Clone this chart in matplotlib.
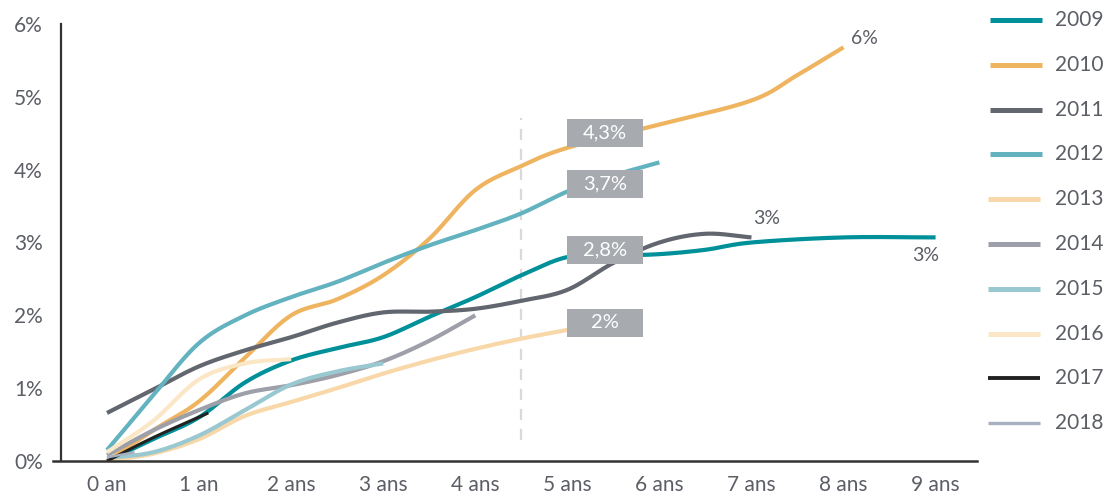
import numpy as np
import matplotlib
matplotlib.use("Agg")
import matplotlib.pyplot as plt
from matplotlib.lines import Line2D
from matplotlib.patches import Rectangle

plt.rcParams['font.family'] = ['Lato', 'DejaVu Sans']

# Years since launch (x) and cumulative rate in % (y) for each vintage
years = ["2009", "2010", "2011", "2012", "2013", "2014", "2015", "2016", "2017", "2018"]

x_2009 = [0, 0.5, 1, 1.5, 2, 2.5, 3, 3.5, 4, 4.5, 5, 5.5, 6, 6.5, 7, 8, 9]
y_2009 = [0, 0.3, 0.6, 1.08, 1.38, 1.55, 1.7, 1.98, 2.25, 2.55, 2.8, 2.82, 2.84, 2.9, 3.0, 3.07, 3.07]

x_2010 = [0, 0.5, 1, 1.5, 2, 2.5, 3, 3.5, 4, 4.5, 5, 6, 7, 7.5, 8]
y_2010 = [0, 0.42, 0.82, 1.42, 2.0, 2.22, 2.55, 3.05, 3.72, 4.05, 4.3, 4.62, 4.95, 5.3, 5.68]

x_2011 = [0, 0.5, 1, 1.5, 2, 2.5, 3, 3.5, 4, 4.5, 5, 5.5, 6, 6.5, 7]
y_2011 = [0.66, 0.98, 1.3, 1.52, 1.7, 1.9, 2.04, 2.05, 2.09, 2.2, 2.35, 2.72, 3.0, 3.12, 3.07]

x_2012 = [0, 0.5, 1, 1.5, 2, 2.5, 3, 3.5, 4, 4.5, 5, 5.5, 6]
y_2012 = [0.15, 0.9, 1.62, 2.0, 2.25, 2.46, 2.72, 2.96, 3.17, 3.4, 3.7, 3.92, 4.1]

x_2013 = [0, 0.5, 1, 1.5, 2, 2.5, 3, 3.5, 4, 4.5, 5]
y_2013 = [0, 0.1, 0.3, 0.62, 0.81, 1.0, 1.2, 1.38, 1.54, 1.68, 1.8]

x_2014 = [0, 0.5, 1, 1.5, 2, 2.5, 3, 3.5, 4]
y_2014 = [0.08, 0.42, 0.7, 0.93, 1.04, 1.18, 1.37, 1.65, 2.0]

x_2015 = [0, 0.5, 1, 1.5, 2, 2.5, 3]
y_2015 = [0.04, 0.12, 0.35, 0.7, 1.05, 1.23, 1.34]

x_2016 = [0, 0.5, 1, 1.5, 2]
y_2016 = [0.12, 0.55, 1.12, 1.34, 1.4]

x_2017 = [0, 0.5, 1.1]
y_2017 = [0, 0.32, 0.66]

x_2018 = [0, 0.3]
y_2018 = [0.05, 0.12]

xs_all = [x_2009, x_2010, x_2011, x_2012, x_2013, x_2014, x_2015, x_2016, x_2017, x_2018]
ys_all = [y_2009, y_2010, y_2011, y_2012, y_2013, y_2014, y_2015, y_2016, y_2017, y_2018]

x_labels = ["0 an", "1 an", "2 ans", "3 ans", "4 ans", "5 ans", "6 ans", "7 ans", "8 ans", "9 ans"]
y_ticks = [0, 1, 2, 3, 4, 5, 6]
y_labels = ["0%", "1%", "2%", "3%", "4%", "5%", "6%"]

# Boxed values at 5 years
box_series = ["2010", "2012", "2009", "2013"]
box_texts = ["4,3%", "3,7%", "2,8%", "2%"]

colors = ["#00909A", "#EFB45F", "#62666E", "#62B2BF", "#F8D8A8",
          "#9DA0A8", "#9AC8D0", "#FBE6C6", "#222222", "#A7AFC0"]
widths = [3, 3, 3, 3, 3, 3, 3, 3, 2.2, 1.8]

TEXT = "#5B5E65"


def smooth(x, y, n=24):
    """Catmull-Rom spline through the points, for a smoothed line."""
    x = np.asarray(x, float)
    y = np.asarray(y, float)
    if len(x) < 3:
        return x, y
    P = np.column_stack([x, y])
    P = np.vstack([2 * P[0] - P[1], P, 2 * P[-1] - P[-2]])
    out = []
    t = np.linspace(0, 1, n, endpoint=False)
    for i in range(1, len(P) - 2):
        p0, p1, p2, p3 = P[i - 1], P[i], P[i + 1], P[i + 2]
        t2, t3 = t * t, t * t * t
        seg = 0.5 * ((2 * p1)[None, :]
                     + (-p0 + p2)[None, :] * t[:, None]
                     + (2 * p0 - 5 * p1 + 4 * p2 - p3)[None, :] * t2[:, None]
                     + (-p0 + 3 * p1 - 3 * p2 + p3)[None, :] * t3[:, None])
        out.append(seg)
    out.append(P[-2][None, :])
    out = np.vstack(out)
    return out[:, 0], out[:, 1]


fig = plt.figure(figsize=(11.06, 4.96), dpi=100)
ax = fig.add_axes([61 / 1106, 1 - 461 / 496, (977 - 61) / 1106, (461 - 24) / 496])
ax.set_xlim(-0.5, 9.45)
ax.set_ylim(0, 6)

# Reference line at 4.5 years
ax.plot([4.5, 4.5], [0.29, 4.71], color="#D9D9D9", lw=1.6, dashes=(5, 4), zorder=1)

for xv, yv, c, w in zip(xs_all, ys_all, colors, widths):
    sx, sy = smooth(xv, yv)
    ax.plot(sx, sy, color=c, lw=w, solid_capstyle="butt", zorder=2)

# Value boxes at 5 years
box_w, box_h = 0.825, 0.385
box_dy = [0.2, 0.1, 0.1, 0.1]
for name, txt, dy in zip(box_series, box_texts, box_dy):
    i = years.index(name)
    xv, yv = xs_all[i], ys_all[i]
    v = yv[xv.index(5)]
    cy = v + dy
    ax.add_patch(Rectangle((5, cy - box_h / 2), box_w, box_h, facecolor="#A7AAAF",
                           edgecolor="none", zorder=5))
    ax.text(5 + box_w / 2, cy, txt, color="white", fontsize=14.5, ha="center",
            va="center", zorder=6)

# End-of-line values
end_labels = [("2010", "6%", (21, 9)), ("2011", "3%", (15, 19)), ("2009", "3%", (-10, -18))]
for name, txt, off in end_labels:
    i = years.index(name)
    ax.annotate(txt, (xs_all[i][-1], ys_all[i][-1]), xytext=off, textcoords="offset pixels",
                ha="center", va="center", color=TEXT, fontsize=14)

# Axes styling
for s in ["top", "right", "bottom"]:
    ax.spines[s].set_visible(False)
ax.spines["left"].set_color("#333333")
ax.spines["left"].set_linewidth(1.6)
ax.plot([-0.59, 9.45], [0, 0], color="#333333", lw=1.8, clip_on=False, zorder=3)

ax.set_xticks(range(len(x_labels)))
ax.set_xticklabels(x_labels)
ax.set_yticks(y_ticks)
ax.set_yticklabels(y_labels)
ax.tick_params(axis="both", length=0, labelsize=15, colors=TEXT)
ax.tick_params(axis="x", pad=10)
ax.tick_params(axis="y", pad=13)

# Legend drawn on the figure
leg_y0, leg_dy = 20, 44.8
for k, (name, c, w) in enumerate(zip(years, colors, widths)):
    yp = leg_y0 + k * leg_dy
    x0 = 990 if k < 4 else 988
    fig.add_artist(Line2D([x0 / 1106, (x0 + 52) / 1106], [1 - yp / 496, 1 - yp / 496],
                          color=c, lw=w + 0.6, solid_capstyle="butt"))
    fig.text(1055 / 1106, 1 - yp / 496, name, color=TEXT, fontsize=15,
             ha="left", va="center")

fig.savefig("out.png", dpi=100)
